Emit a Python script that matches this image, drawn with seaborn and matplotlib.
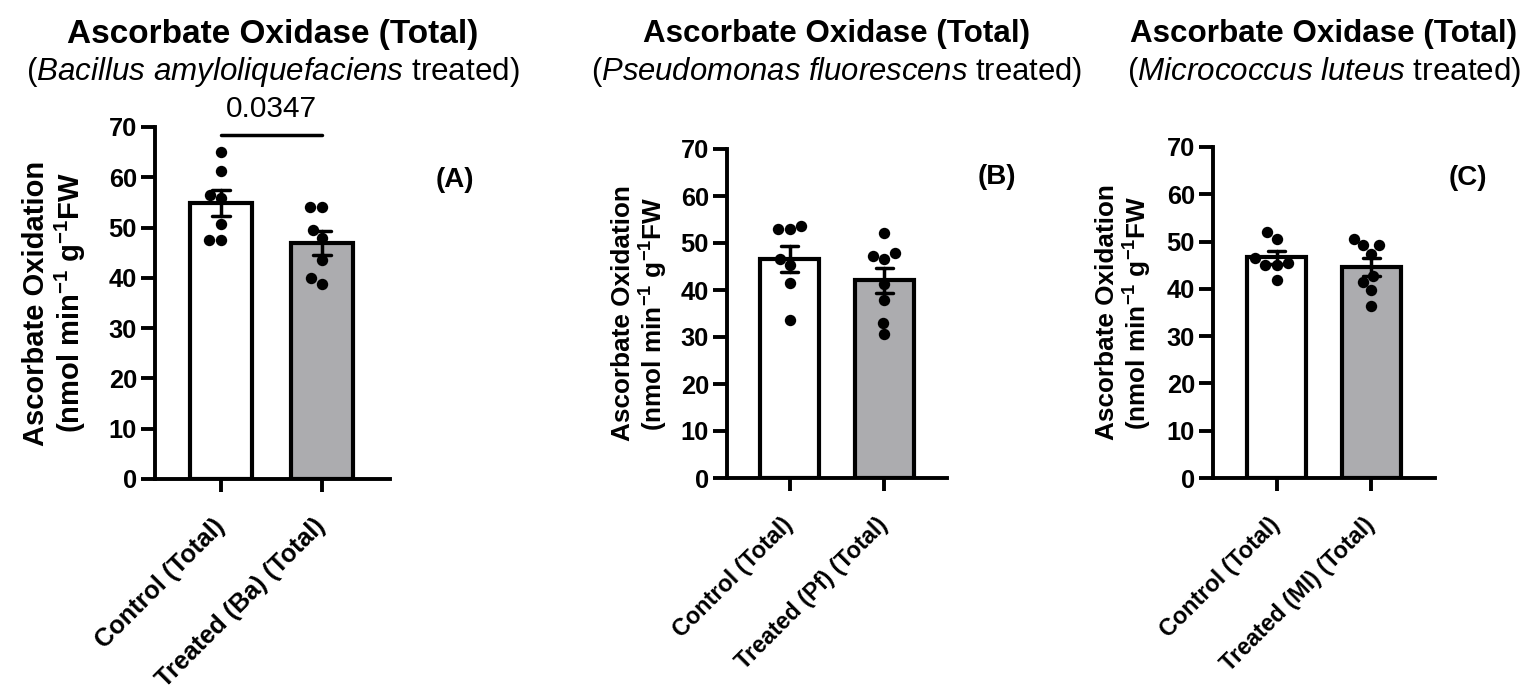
import numpy as np
import pandas as pd
import matplotlib
matplotlib.use("Agg")
import matplotlib.pyplot as plt
import matplotlib.transforms as mtrans
import seaborn as sns

# ---------------- data ----------------
groups_A = ["Control (Total)", "Treated (Ba) (Total)"]
groups_B = ["Control (Total)", "Treated (Pf) (Total)"]
groups_C = ["Control (Total)", "Treated (Ml) (Total)"]

ctrl_A = [65.0, 61.2, 56.4, 55.8, 50.8, 47.6, 47.6]
trt_A = [54.1, 54.1, 49.5, 48.0, 43.5, 39.9, 38.8]
ctrl_B = [53.6, 52.9, 52.9, 46.7, 45.3, 41.4, 33.6]
trt_B = [52.2, 47.8, 47.2, 46.5, 41.2, 37.8, 33.0, 30.6]
ctrl_C = [52.0, 50.6, 46.5, 45.5, 45.0, 45.0, 41.9]
trt_C = [50.6, 49.2, 49.2, 47.4, 42.8, 41.4, 39.7, 36.3]

species = ["Bacillus amyloliquefaciens", "Pseudomonas fluorescens", "Micrococcus luteus"]
panel_tags = ["(A)", "(B)", "(C)"]
pval_A = "0.0347"
yticks = [0, 10, 20, 30, 40, 50, 60, 70]

# ---------------- style ----------------
sns.set_theme(style="ticks")
plt.rcParams["font.family"] = ["Liberation Sans", "DejaVu Sans"]
plt.rcParams["mathtext.fontset"] = "custom"
plt.rcParams["mathtext.rm"] = "Liberation Sans"
plt.rcParams["mathtext.it"] = "Liberation Sans:italic"
plt.rcParams["mathtext.bf"] = "Liberation Sans:bold"
for k in ["text.color", "axes.labelcolor", "xtick.color", "ytick.color", "axes.edgecolor"]:
    plt.rcParams[k] = "black"

W, H = 1535, 699
fig = plt.figure(figsize=(W / 100, H / 100), dpi=100)

def px_rect(left, right, top, bottom):
    return [left / W, 1 - bottom / H, (right - left) / W, (bottom - top) / H]

# axes rectangles in pixel coordinates (left, right, top(70), bottom(0))
rects = [px_rect(155, 390, 127, 479),
         px_rect(727, 947, 149, 478),
         px_rect(1213, 1435, 147, 478)]
xlims = [(-0.66, 1.68), (-0.66, 1.66), (-0.67, 1.67)]
tag_pos = [(455, 180), (997, 177), (1468, 178)]
title_fs = [24, 22.6, 22.6]
sub_fs = [22.6, 22.3, 22.6]
ylab_fs = [21, 18.8, 18.8]
xtick_fs = [18.2, 16.8, 16.8]
ylab_x = [-0.285, -0.259, -0.266]
xlab_dx = [-9, -8, -8]

panels = [(groups_A, ctrl_A, trt_A), (groups_B, ctrl_B, trt_B), (groups_C, ctrl_C, trt_C)]
colors = ["#ffffff", "#ababaf"]

for i, (groups, c, t) in enumerate(panels):
    ax = fig.add_axes(rects[i])
    df = pd.DataFrame({"group": [groups[0]] * len(c) + [groups[1]] * len(t),
                       "value": c + t})
    sns.barplot(data=df, x="group", y="value", hue="group", order=groups,
                hue_order=groups, palette=colors, legend=False,
                errorbar="se", capsize=0.18, width=0.62,
                edgecolor="black", linewidth=3,
                err_kws={"color": "black", "linewidth": 2.5}, ax=ax)
    sns.swarmplot(data=df, x="group", y="value", order=groups, color="black",
                  size=8.2, ax=ax)
    ax.set_ylim(0, 70)
    ax.set_xlim(*xlims[i])
    ax.set_yticks(yticks)
    ax.set_yticklabels([str(v) for v in yticks], fontsize=18.3, fontweight="bold")
    ax.set_xticks([0, 1])
    ax.set_xticklabels(groups, rotation=45, ha="right", va="top",
                       rotation_mode="anchor",
                       fontsize=xtick_fs[i], fontweight="bold")
    ax.set_xlabel("")
    ax.set_ylabel("Ascorbate Oxidation\n(nmol min$^{\\mathbf{-1}}$ g$^{\\mathbf{-1}}$FW",
                  fontsize=ylab_fs[i], fontweight="bold", linespacing=1.1)
    ax.yaxis.set_label_coords(ylab_x[i], 0.5)
    sns.despine(ax=ax)
    for s in ["left", "bottom"]:
        ax.spines[s].set_linewidth(2.8)
        ax.spines[s].set_color("black")
    ax.tick_params(axis="y", length=10, width=2.8, color="black", pad=3)
    ax.tick_params(axis="x", length=9.5, width=2.8, color="black", pad=16)
    off = mtrans.ScaledTranslation(xlab_dx[i] / 100, 0, fig.dpi_scale_trans)
    for lab in ax.get_xticklabels():
        lab.set_transform(lab.get_transform() + off)
    ax.set_facecolor("white")

    cx = (rects[i][0] + rects[i][2] / 2)
    fig.text(cx, 1 - 34 / H, "Ascorbate Oxidase (Total)", ha="center", va="center",
             fontsize=title_fs[i], fontweight="bold")
    sp = species[i].replace(" ", "\\ ")
    fig.text(cx, 1 - 72 / H, "($\\mathit{" + sp + "}$ treated)", ha="center",
             va="center", fontsize=sub_fs[i])
    fig.text(tag_pos[i][0] / W, 1 - tag_pos[i][1] / H, panel_tags[i], ha="center",
             va="center", fontsize=20, fontweight="bold")

    if i == 0:
        ax.plot([0, 1], [68.4, 68.4], color="black", lw=2.5, clip_on=False)
        ax.text(0.5, 73.6, pval_A, ha="center", va="center", fontsize=21.5,
                clip_on=False)

fig.savefig("out.png", dpi=100, facecolor="white")
